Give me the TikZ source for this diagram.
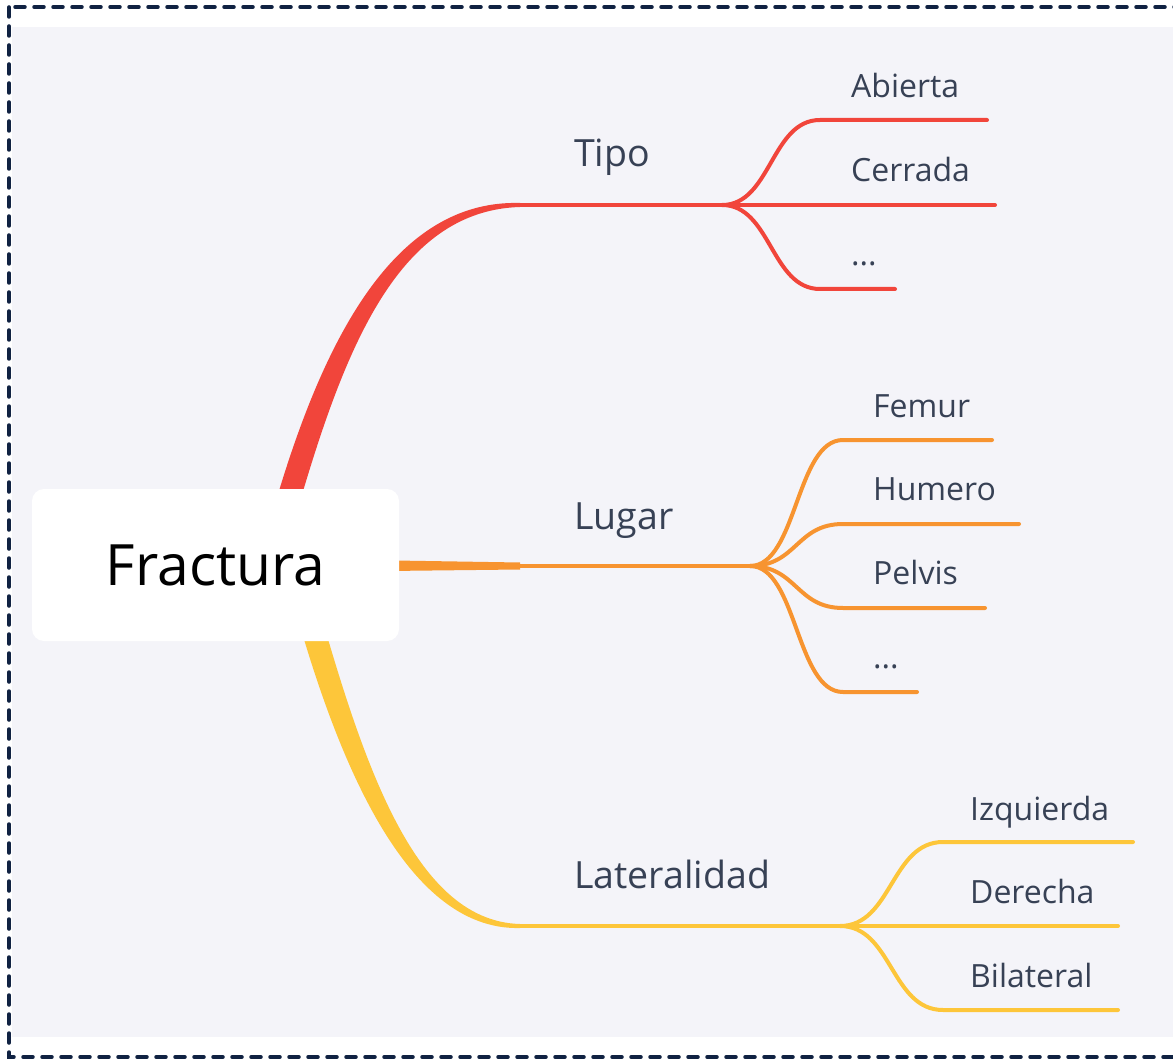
\documentclass[tikz,border=0pt]{standalone}
\usepackage{fontspec}
\setmainfont{Open Sans}
\usepackage{tikz}
\usetikzlibrary{positioning}

\definecolor{paper}{RGB}{244,244,249}
\definecolor{frame}{RGB}{16,34,66}
\definecolor{ink}{RGB}{55,65,85}
\definecolor{tipored}{RGB}{241,69,59}
\definecolor{lugarorange}{RGB}{247,148,48}
\definecolor{latyellow}{RGB}{253,198,58}

\pgfdeclarelayer{bg}
\pgfdeclarelayer{links}
\pgfsetlayers{bg,links,main}

\begin{document}
\begin{tikzpicture}[x=1pt,y=-1pt]
  \tikzstyle{root}=[fill=white,rounded corners=12pt,minimum width=367pt,minimum height=152pt,inner sep=0pt,font=\fontsize{57}{64}\selectfont]
  \tikzstyle{topic}=[anchor=base west,inner sep=0pt,text=ink,font=\fontsize{37.5}{44}\selectfont]
  \tikzstyle{leaf}=[anchor=base west,inner sep=0pt,text=ink,font=\fontsize{32}{36}\selectfont]
  \tikzstyle{twig}=[line width=4pt,line cap=round]
  \tikzstyle{edge}=[line width=3.5pt,line cap=round,dash pattern=on 10pt off 9pt]

  \clip (0,0) rectangle (1173,1059);

  % Centre
  \node[root] (root) at (215.5,565) {Fractura};

  % Tipo
  \node[topic] (tipo) at (574,167) {Tipo};
  \coordinate (tipo-in) at (520,205);
  \coordinate (tipo-hub) at (722,205);
  \node[leaf] (abierta) at (851,98) {Abierta};
  \node[leaf] (cerrada) at (851,182) {Cerrada};
  \node[leaf] (tipo-etc) at (851,266) {...};
  \coordinate (abierta-in) at (820,120);
  \coordinate (abierta-out) at (987,120);
  \coordinate (cerrada-out) at (995,205);
  \coordinate (tipo-etc-in) at (820,289);
  \coordinate (tipo-etc-out) at (895,289);

  % Lugar
  \node[topic] (lugar) at (574,529) {Lugar};
  \coordinate (lugar-in) at (520,566);
  \coordinate (lugar-hub) at (750,566);
  \node[leaf] (femur) at (873,417) {Femur};
  \node[leaf] (humero) at (873,500) {Humero};
  \node[leaf] (pelvis) at (873,584) {Pelvis};
  \node[leaf] (lugar-etc) at (873,668) {...};
  \coordinate (femur-in) at (843,440);
  \coordinate (femur-out) at (992,440);
  \coordinate (humero-in) at (843,524);
  \coordinate (humero-out) at (1019,524);
  \coordinate (pelvis-in) at (843,608);
  \coordinate (pelvis-out) at (985,608);
  \coordinate (lugar-etc-in) at (843,692);
  \coordinate (lugar-etc-out) at (917,692);

  % Lateralidad
  \node[topic] (lat) at (574,888) {Lateralidad};
  \coordinate (lat-in) at (520,926);
  \coordinate (lat-hub) at (840,926);
  \node[leaf] (izq) at (970,820) {Izquierda};
  \node[leaf] (der) at (970,903) {Derecha};
  \node[leaf] (bil) at (970,987) {Bilateral};
  \coordinate (izq-in) at (943,842);
  \coordinate (izq-out) at (1133,842);
  \coordinate (der-out) at (1118,926);
  \coordinate (bil-in) at (943,1010);
  \coordinate (bil-out) at (1118,1010);

  \begin{pgfonlayer}{bg}
    \fill[white] (0,0) rectangle (1173,1059);
    \fill[paper] (12,27) rectangle (1173,1037);
    \draw[edge,frame] (9,7) rectangle (1190,1057);
  \end{pgfonlayer}

  \begin{pgfonlayer}{links}
    % thick stems
    \fill[tipored] (259,562) .. controls (307,378) and (378,199) .. ([yshift=2pt]tipo-in)
      -- ([yshift=-2pt]tipo-in) .. controls (384,211) and (333,382) .. (281,568) -- cycle;
    \fill[lugarorange] (300,559) -- ([yshift=3.5pt]lugar-in) -- ([yshift=-3.5pt]lugar-in) -- (300,572) -- cycle;
    \fill[latyellow] (284,568) .. controls (332,752) and (403,931) .. ([yshift=-2pt]lat-in)
      -- ([yshift=2pt]lat-in) .. controls (409,921) and (358,748) .. (306,562) -- cycle;

    % Tipo branches
    \draw[twig,tipored] (tipo-in) -- (tipo-hub);
    \draw[twig,tipored] (tipo-hub) .. controls +(49,0) and +(-49,0) .. (abierta-in) -- (abierta-out);
    \draw[twig,tipored] (tipo-hub) -- (cerrada-out);
    \draw[twig,tipored] (tipo-hub) .. controls +(49,0) and +(-49,0) .. (tipo-etc-in) -- (tipo-etc-out);

    % Lugar branches
    \draw[twig,lugarorange] (lugar-in) -- (lugar-hub);
    \draw[twig,lugarorange] (lugar-hub) .. controls +(47,0) and +(-47,0) .. (femur-in) -- (femur-out);
    \draw[twig,lugarorange] (lugar-hub) .. controls +(47,0) and +(-47,0) .. (humero-in) -- (humero-out);
    \draw[twig,lugarorange] (lugar-hub) .. controls +(47,0) and +(-47,0) .. (pelvis-in) -- (pelvis-out);
    \draw[twig,lugarorange] (lugar-hub) .. controls +(47,0) and +(-47,0) .. (lugar-etc-in) -- (lugar-etc-out);

    % Lateralidad branches
    \draw[twig,latyellow] (lat-in) -- (lat-hub);
    \draw[twig,latyellow] (lat-hub) .. controls +(52,0) and +(-52,0) .. (izq-in) -- (izq-out);
    \draw[twig,latyellow] (lat-hub) -- (der-out);
    \draw[twig,latyellow] (lat-hub) .. controls +(52,0) and +(-52,0) .. (bil-in) -- (bil-out);
  \end{pgfonlayer}
\end{tikzpicture}
\end{document}
